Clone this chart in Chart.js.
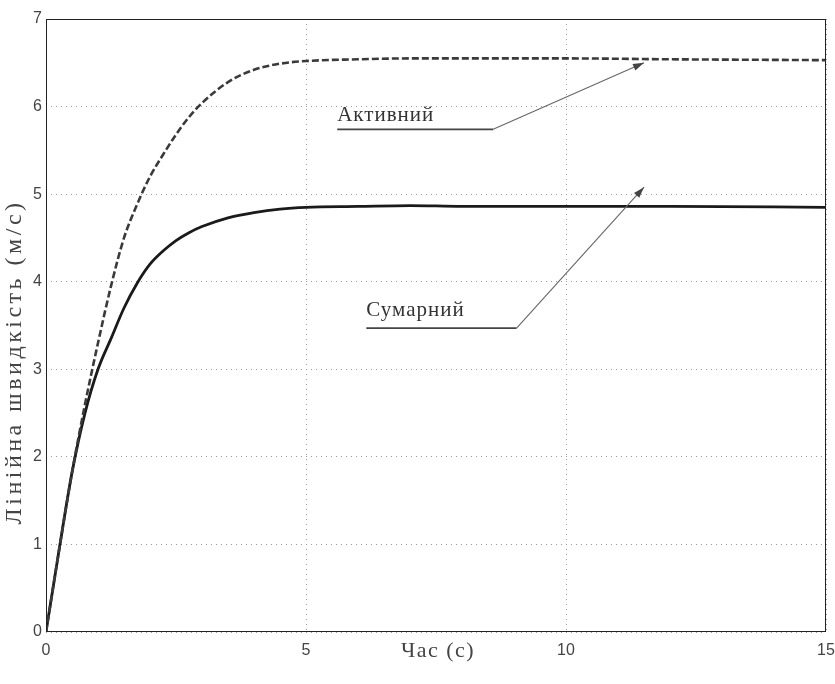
<!DOCTYPE html>
<html>
<head>
<meta charset="utf-8">
<script src="https://cdn.jsdelivr.net/npm/chart.js@4/dist/chart.umd.min.js"></script>
<style>
  html, body { margin: 0; padding: 0; background: #fff; }
  #wrap { width: 835px; height: 684px; }
</style>
</head>
<body>
<div id="wrap"><canvas id="c" width="835" height="684"></canvas></div>
<script>
// Час (с) та швидкості (м/с)
const chas = [0, 0.25, 0.5, 0.75, 1, 1.25, 1.5, 1.75, 2, 2.25, 2.5, 2.75, 3, 3.5, 4, 4.5, 5, 6, 7, 8, 10, 12, 15];
const aktyvnyi = [0, 0.93, 1.82, 2.6, 3.3, 3.95, 4.5, 4.88, 5.2, 5.45, 5.68, 5.88, 6.04, 6.28, 6.42, 6.49, 6.52, 6.54, 6.55, 6.55, 6.55, 6.54, 6.53];
const sumarnyi = [0, 0.93, 1.82, 2.5, 3.0, 3.35, 3.7, 3.98, 4.2, 4.35, 4.47, 4.56, 4.63, 4.73, 4.79, 4.83, 4.85, 4.86, 4.87, 4.86, 4.86, 4.86, 4.85];
const xTicks = [0, 5, 10, 15];
const yTicks = [0, 1, 2, 3, 4, 5, 6, 7];
const xTitle = 'Час (с)';
const yTitle = 'Лінійна швидкість (м/с)';

// підписи зі стрілками (в координатах даних)
const pidpysy = [
  { text: 'Активний', x: 5.6, y: 5.9, lineY: 5.74, lineEnd: 8.6, tipX: 11.5, tipY: 6.5 },
  { text: 'Сумарний', x: 6.16, y: 3.67, lineY: 3.47, lineEnd: 9.05, tipX: 11.5, tipY: 5.08 },
];

const serif = '"Liberation Serif", "DejaVu Serif", serif';

const ramka = {
  id: 'ramka',
  afterDatasetsDraw(chart) {
    const { ctx, chartArea: a, scales } = chart;
    ctx.save();
    ctx.strokeStyle = '#222';
    ctx.lineWidth = 1;
    ctx.strokeRect(a.left + 0.5, a.top + 0.5, a.right - a.left - 1, a.bottom - a.top - 1);

    ctx.textBaseline = 'middle';
    ctx.fillStyle = '#444';

    // назви осей
    ctx.font = '22px ' + serif;
    ctx.letterSpacing = '1.5px';
    ctx.textAlign = 'center';
    ctx.fillText(xTitle, (a.left + a.right) / 2 + 2, 651);
    ctx.save();
    ctx.translate(15, 362);
    ctx.rotate(-Math.PI / 2);
    ctx.font = '24px ' + serif;
    ctx.letterSpacing = '3.5px';
    ctx.fillText(yTitle, 0, 0);
    ctx.restore();

    ctx.textAlign = 'left';
    ctx.font = '21px ' + serif;
    ctx.letterSpacing = '1px';
    pidpysy.forEach((p) => {
      const x0 = scales.x.getPixelForValue(p.x);
      const ty = scales.y.getPixelForValue(p.y);
      const ly = scales.y.getPixelForValue(p.lineY);
      const x1 = scales.x.getPixelForValue(p.lineEnd);
      const tx = scales.x.getPixelForValue(p.tipX);
      const tyy = scales.y.getPixelForValue(p.tipY);
      ctx.fillStyle = '#333';
      ctx.fillText(p.text, x0, ty);

      ctx.strokeStyle = '#444';
      ctx.lineWidth = 1.6;
      ctx.beginPath();
      ctx.moveTo(x0, ly);
      ctx.lineTo(x1, ly);
      ctx.stroke();
      ctx.strokeStyle = '#666';
      ctx.lineWidth = 1.1;
      ctx.beginPath();
      ctx.moveTo(x1, ly);
      ctx.lineTo(tx, tyy);
      ctx.stroke();

      // вістря
      const ang = Math.atan2(tyy - ly, tx - x1);
      const len = 11, half = 3.5;
      ctx.fillStyle = '#444';
      ctx.beginPath();
      ctx.moveTo(tx, tyy);
      ctx.lineTo(tx - len * Math.cos(ang) + half * Math.sin(ang), tyy - len * Math.sin(ang) - half * Math.cos(ang));
      ctx.lineTo(tx - len * Math.cos(ang) - half * Math.sin(ang), tyy - len * Math.sin(ang) + half * Math.cos(ang));
      ctx.closePath();
      ctx.fill();
    });
    ctx.restore();
  },
};

const sitka = { color: '#9a9a9a', lineWidth: 1, drawTicks: false };
const tickFont = { family: '"Liberation Sans", Arial, sans-serif', size: 16 };

new Chart(document.getElementById('c'), {
  type: 'line',
  data: {
    datasets: [
      {
        label: 'Активний',
        data: chas.map((t, i) => ({ x: t, y: aktyvnyi[i] })),
        borderColor: '#3a3a3a',
        borderWidth: 2.6,
        borderDash: [7, 3],
        pointRadius: 0,
        cubicInterpolationMode: 'monotone',
      },
      {
        label: 'Сумарний',
        data: chas.map((t, i) => ({ x: t, y: sumarnyi[i] })),
        borderColor: '#1a1a1a',
        borderWidth: 2.8,
        pointRadius: 0,
        cubicInterpolationMode: 'monotone',
      },
    ],
  },
  options: {
    responsive: false,
    animation: false,
    layout: { padding: { left: 0, right: 9, top: 19, bottom: 0 } },
    plugins: { legend: { display: false }, tooltip: { enabled: false } },
    scales: {
      x: {
        type: 'linear',
        min: 0,
        max: 15,
        afterBuildTicks: (s) => { s.ticks = xTicks.map((v) => ({ value: v })); },
        afterFit: (s) => { s.height = 52; s.paddingLeft = 0; s.paddingRight = 0; },
        grid: sitka,
        border: { display: false, dash: [1, 4] },
        ticks: { color: '#444', padding: 9, maxRotation: 0, font: tickFont },
      },
      y: {
        min: 0,
        max: 7,
        afterBuildTicks: (s) => { s.ticks = yTicks.map((v) => ({ value: v })); },
        afterFit: (s) => { s.width = 46; },
        grid: sitka,
        border: { display: false, dash: [1, 4] },
        ticks: { color: '#444', padding: 4, font: tickFont },
      },
    },
  },
  plugins: [ramka],
});
</script>
</body>
</html>
